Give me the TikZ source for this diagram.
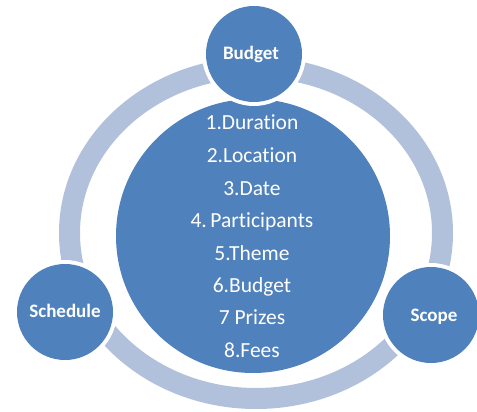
\documentclass[tikz,border=0pt]{standalone}
\usepackage{fontspec}
\setmainfont[Ligatures={NoCommon}]{Carlito}
\definecolor{mainblue}{HTML}{4F81BD}
\definecolor{ringblue}{HTML}{B1C1DB}
\begin{document}
\begin{tikzpicture}[x=1pt,y=-1pt,
  ringstyle/.style={draw=ringblue,line width=21pt},
  halo/.style={fill=white},
  disc/.style={fill=mainblue},
  smalllabel/.style={text=white,font=\fontsize{19}{21}\selectfont\bfseries,anchor=base,inner sep=0pt},
  listitem/.style={text=white,font=\fontsize{21.5}{24}\selectfont,anchor=base,inner sep=0pt}]
\useasboundingbox (0,0) rectangle (477,412);
% ring
\draw[ringstyle] (256,233) ellipse [x radius=186.5pt, y radius=165.5pt];
% central circle
\fill[halo] (253,236) circle (140pt);
\fill[disc] (253,236) circle (137pt);
% small circles
\fill[halo] (254,54) circle (52pt);
\fill[disc] (254,54) circle (48pt);
\fill[halo] (65,312) circle (52pt);
\fill[disc] (65,312) circle (48pt);
\fill[halo] (431,315) circle (52pt);
\fill[disc] (431,315) circle (48pt);
% labels
\node[smalllabel] (budget) at (251,60) {Budget};
\node[smalllabel] (schedule) at (65,317) {Schedule};
\node[smalllabel] (scope) at (434,321) {Scope};
\node[listitem] (l1) at (252,129) {1.Duration};
\node[listitem] (l2) at (252,162) {2.Location};
\node[listitem] (l3) at (252,195) {3.Date};
\node[listitem] (l4) at (252,227) {4.\,Participants};
\node[listitem] (l5) at (252,260) {5.Theme};
\node[listitem] (l6) at (252,292) {6.Budget};
\node[listitem] (l7) at (252,324) {7 Prizes};
\node[listitem] (l8) at (252,357) {8.Fees};
\end{tikzpicture}
\end{document}
